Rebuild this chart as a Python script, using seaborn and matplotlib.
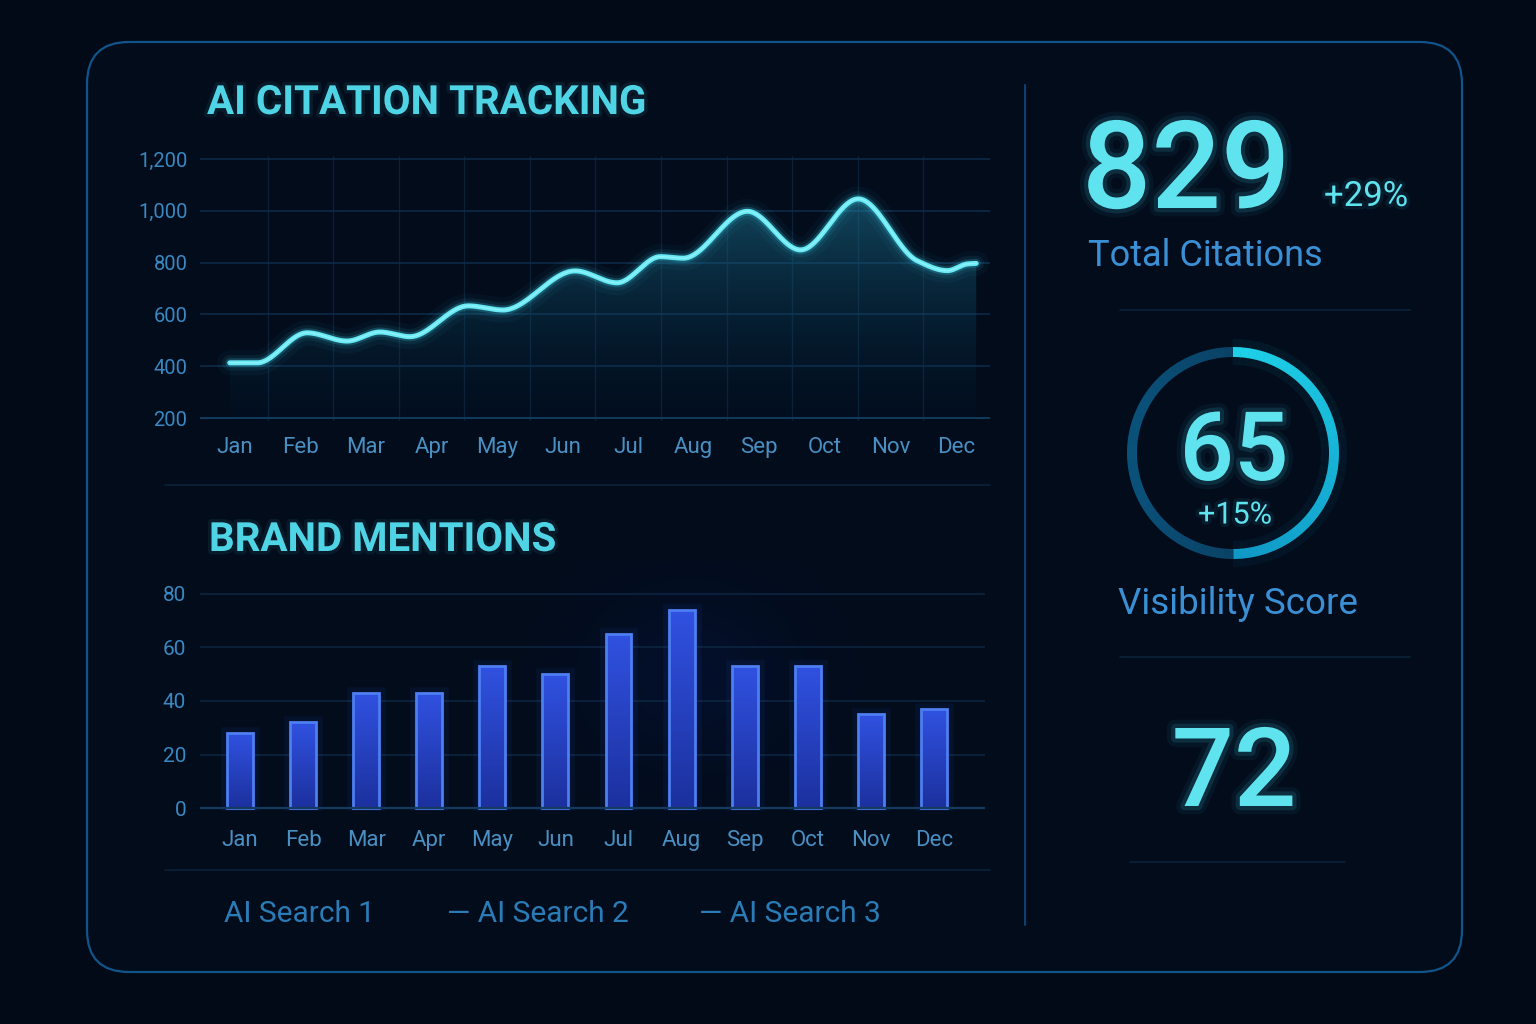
import numpy as np
import pandas as pd
import seaborn as sns
import matplotlib.pyplot as plt
import matplotlib.patheffects as pe
from matplotlib.patches import FancyBboxPatch, Wedge, Rectangle

# data
months = ["Jan", "Feb", "Mar", "Apr", "May", "Jun", "Jul", "Aug", "Sep", "Oct", "Nov", "Dec"]
# citation curve: turning points (position in months, value)
cite_pos = [-0.08, 0.34, 1.10, 1.71, 2.21, 2.67, 3.56, 4.09, 5.19, 5.83, 6.49, 6.84,
            7.82, 8.63, 9.51, 10.41, 10.87, 11.18, 11.31]
cite_val = [413, 413, 529, 497, 532, 514, 633, 617, 768, 722, 823, 817,
            998, 849, 1046, 807, 769, 795, 797]
cite_ticks = [200, 400, 600, 800, 1000, 1200]
mentions = [28, 32, 43, 43, 53, 50, 65, 74, 53, 53, 35, 37]
mention_ticks = [0, 20, 40, 60, 80]
legend_names = ["AI Search 1", "AI Search 2", "AI Search 3"]
total_citations = "829"
citations_change = "+29%"
visibility = "65"
visibility_change = "+15%"
visibility_ring = 50  # percent of ring lit
third_kpi = "72"

BG = "#020a17"
CYAN = "#5fe3ee"
TICK = "#3a88c2"
W, H = 1536, 1024

sns.set_theme(style="dark")
plt.rcParams["font.family"] = ["Roboto", "DejaVu Sans"]


def smooth(xs, ys, n=40):
    # monotone cubic (pchip) so peaks stay at the read values
    x = np.asarray(xs, float)
    y = np.asarray(ys, float)
    h = np.diff(x)
    d = np.diff(y) / h
    m = np.zeros_like(y)
    m[0], m[-1] = d[0], d[-1]
    for k in range(1, len(x) - 1):
        if d[k - 1] * d[k] > 0:
            w1 = 2 * h[k] + h[k - 1]
            w2 = h[k] + 2 * h[k - 1]
            m[k] = (w1 + w2) / (w1 / d[k - 1] + w2 / d[k])
    ox, oy = [], []
    t = np.linspace(0, 1, n, endpoint=False)
    for k in range(len(x) - 1):
        h00 = 2 * t ** 3 - 3 * t ** 2 + 1
        h10 = t ** 3 - 2 * t ** 2 + t
        h01 = -2 * t ** 3 + 3 * t ** 2
        h11 = t ** 3 - t ** 2
        ox.append(x[k] + t * h[k])
        oy.append(h00 * y[k] + h10 * h[k] * m[k] + h01 * y[k + 1] + h11 * h[k] * m[k + 1])
    ox.append([x[-1]])
    oy.append([y[-1]])
    return np.concatenate(ox), np.concatenate(oy)


def glow(c, strong=False):
    if strong:
        return [pe.Stroke(linewidth=12, foreground=c, alpha=0.06),
                pe.Stroke(linewidth=6, foreground=c, alpha=0.12), pe.Normal()]
    return [pe.Stroke(linewidth=5, foreground=c, alpha=0.08), pe.Normal()]


fig = plt.figure(figsize=(W / 100, H / 100), dpi=100, facecolor=BG)
bg = fig.add_axes([0, 0, 1, 1])
bg.set_xlim(0, W)
bg.set_ylim(H, 0)
bg.axis("off")
bg.set_facecolor(BG)

# panel + separators
bg.add_patch(FancyBboxPatch((87, 42), 1375, 930, boxstyle="round,pad=0,rounding_size=42",
                            facecolor="#020c1b", edgecolor="#11548a", linewidth=1.6))
# soft blue haze behind the tallest bars
yy, xx = np.mgrid[0:1:200j, 0:1:300j]
haze = np.zeros((200, 300, 4))
haze[..., 0], haze[..., 1], haze[..., 2] = 0.08, 0.18, 0.75
haze[..., 3] = 0.10 * np.exp(-(((xx - 0.5) / 0.28) ** 2 + ((yy - 0.45) / 0.35) ** 2))
bg.imshow(haze, extent=[500, 880, 820, 560], aspect="auto", zorder=1)
bg.set_xlim(0, W)
bg.set_ylim(H, 0)
bg.plot([1025, 1025], [85, 925], color="#0f3f6e", lw=1.5)
for y, x0, x1 in [(485, 165, 990), (870, 165, 990), (310, 1120, 1410), (657, 1120, 1410), (862, 1130, 1345)]:
    bg.plot([x0, x1], [y, y], color="#0b2238", lw=1.2)


def px_axes(l, t, r, b):
    a = fig.add_axes([l / W, 1 - b / H, (r - l) / W, (b - t) / H])
    a.set_facecolor("none")
    for s in a.spines.values():
        s.set_visible(False)
    return a


# ---------- AI citation tracking ----------
bg.text(207, 103, "AI CITATION TRACKING", color="#4fd4e6", fontsize=29, fontweight="bold",
        va="center", ha="left", path_effects=glow("#4fd4e6"))
ax1 = px_axes(200, 156.4, 990, 420.6)
sx, sy = smooth(cite_pos, cite_val)
df_line = pd.DataFrame({"pos": sx, "val": sy})
poly = ax1.fill_between(sx, sy, 200, color="none", lw=0)
grad = np.zeros((100, 1, 4))
grad[:, 0, 0] = np.linspace(0.02, 0.15, 100)
grad[:, 0, 1] = np.linspace(0.20, 0.55, 100)
grad[:, 0, 2] = np.linspace(0.32, 0.68, 100)
grad[:, 0, 3] = np.linspace(0.06, 0.45, 100)
im = ax1.imshow(grad, extent=[sx.min(), sx.max(), 200, 1050], origin="lower", aspect="auto", zorder=1)
im.set_clip_path(poly.get_paths()[0], transform=ax1.transData)
for lw, a in [(18, 0.04), (11, 0.08), (6.5, 0.2)]:
    ax1.plot(sx, sy, color="#3fd8f0", lw=lw, alpha=a, solid_capstyle="round", zorder=3)
sns.lineplot(data=df_line, x="pos", y="val", ax=ax1, color="#68eaf5", lw=3.6, sort=False, zorder=4)
ax1.plot(sx, sy, color="#b8f8fc", lw=1.0, alpha=0.5, zorder=5)
ax1.set_xlim(-0.534, 11.52)
ax1.set_ylim(190, 1210)
ax1.set_yticks(cite_ticks)
ax1.set_yticklabels([f"{v:,}" for v in cite_ticks])
ax1.set_xticks(range(len(months)))
ax1.set_xticklabels(months)
ax1.set_xticks(np.arange(0.5, 11, 1), minor=True)
ax1.grid(which="major", axis="y", color="#0c2a47", lw=1.2)
ax1.grid(which="minor", axis="x", color="#0a2036", lw=1.0)
ax1.grid(which="major", axis="x", visible=False)
ax1.axhline(200, color="#123a5c", lw=1.4, zorder=2)
ax1.tick_params(axis="y", length=0, pad=9, labelsize=14.5, labelcolor=TICK)
ax1.tick_params(axis="x", which="both", length=0, pad=12, labelsize=16, labelcolor="#4a8fc2")
ax1.set_xlabel("")
ax1.set_ylabel("")

# ---------- brand mentions ----------
bg.text(209, 540, "BRAND MENTIONS", color="#4fd4e6", fontsize=29, fontweight="bold",
        va="center", ha="left", path_effects=glow("#4fd4e6"))
ax2 = px_axes(200, 591.3, 985, 810.7)
df_bar = pd.DataFrame({"month": months, "mentions": mentions})
sns.barplot(data=df_bar, x="month", y="mentions", ax=ax2, width=0.41, color="#2440c2",
            edgecolor="#4d7ef2", linewidth=2, zorder=4)
bgrad = np.zeros((100, 1, 4))
bgrad[:, 0, 0] = np.linspace(0.11, 0.19, 100)
bgrad[:, 0, 1] = np.linspace(0.19, 0.32, 100)
bgrad[:, 0, 2] = np.linspace(0.62, 0.88, 100)
bgrad[:, 0, 3] = 1.0
for p in list(ax2.patches):
    x0, w, h = p.get_x(), p.get_width(), p.get_height()
    ax2.add_patch(Rectangle((x0, 0), w, h, facecolor="none", edgecolor="#3a66ff", lw=9, alpha=0.07, zorder=2))
    bim = ax2.imshow(bgrad, extent=[x0, x0 + w, 0, h], origin="lower", aspect="auto", zorder=3)
    bim.set_clip_path(p)
    p.set_facecolor("none")
ax2.set_xlim(-0.634, 11.81)
ax2.set_ylim(-1, 81)
ax2.set_yticks(mention_ticks)
ax2.grid(which="major", axis="y", color="#0c2540", lw=1.2)
ax2.grid(which="major", axis="x", visible=False)
ax2.axhline(0, color="#143a5e", lw=1.6, zorder=5)
ax2.tick_params(axis="y", length=0, pad=10, labelsize=15, labelcolor=TICK)
ax2.tick_params(axis="x", length=0, pad=14, labelsize=16, labelcolor="#4a8fc2")
ax2.set_xlabel("")
ax2.set_ylabel("")

# legend row
legend_x = [224, 447, 699]
for i, (name, lx) in enumerate(zip(legend_names, legend_x)):
    label = name if i == 0 else "— " + name
    bg.text(lx, 914, label, color="#2a7bb6", fontsize=21.5, va="center", ha="left")

# ---------- KPI column ----------
bg.text(1082, 208, total_citations, color=CYAN, fontsize=88, fontweight="medium",
        va="baseline", ha="left", path_effects=glow("#3fd8f0", True))
bg.text(1324, 206, citations_change, color=CYAN, fontsize=25, va="baseline", ha="left",
        path_effects=glow("#3fd8f0"))
bg.text(1088, 266, "Total Citations", color="#3b8fd4", fontsize=26, va="baseline", ha="left")

ring = fig.add_axes([(1233 - 130) / W, 1 - (453 + 130) / H, 260 / W, 260 / H])
ring.set_xlim(-1.3, 1.3)
ring.set_ylim(-1.3, 1.3)
ring.set_aspect("equal")
ring.axis("off")
lit = 360 * visibility_ring / 100
start = 90 - lit
n_seg = 40
for k in range(n_seg):
    a0 = start + lit * k / n_seg
    a1 = start + lit * (k + 1) / n_seg + 0.3
    f = k / (n_seg - 1)
    col = (0.06 + 0.06 * f, 0.60 + 0.22 * f, 0.78 + 0.13 * f)
    ring.add_patch(Wedge((0, 0), 1.06, a0, a1, width=0.10, facecolor=col, edgecolor="none"))
    ring.add_patch(Wedge((0, 0), 1.14, a0, a1, width=0.26, facecolor=col, edgecolor="none", alpha=0.06))
rest = 360 - lit
for k in range(n_seg):
    a0 = 90 + rest * k / n_seg
    a1 = 90 + rest * (k + 1) / n_seg + 0.3
    f = k / (n_seg - 1)
    col = (0.04, 0.26 + 0.06 * np.sin(np.pi * f), 0.40 + 0.08 * np.sin(np.pi * f))
    ring.add_patch(Wedge((0, 0), 1.06, a0, a1, width=0.10, facecolor=col, edgecolor="none"))

bg.text(1234, 480, visibility, color=CYAN, fontsize=69, fontweight="medium", va="baseline", ha="center",
        path_effects=glow("#3fd8f0", True))
bg.text(1235, 515, visibility_change, color=CYAN, fontsize=22, va="center", ha="center",
        path_effects=glow("#3fd8f0"))
bg.text(1238, 604, "Visibility Score", color="#3b8fd4", fontsize=26.5, va="center", ha="center")

bg.text(1234, 806, third_kpi, color=CYAN, fontsize=79, fontweight="medium", va="baseline", ha="center",
        path_effects=glow("#3fd8f0", True))

fig.savefig("out.png", dpi=100, facecolor=BG)
